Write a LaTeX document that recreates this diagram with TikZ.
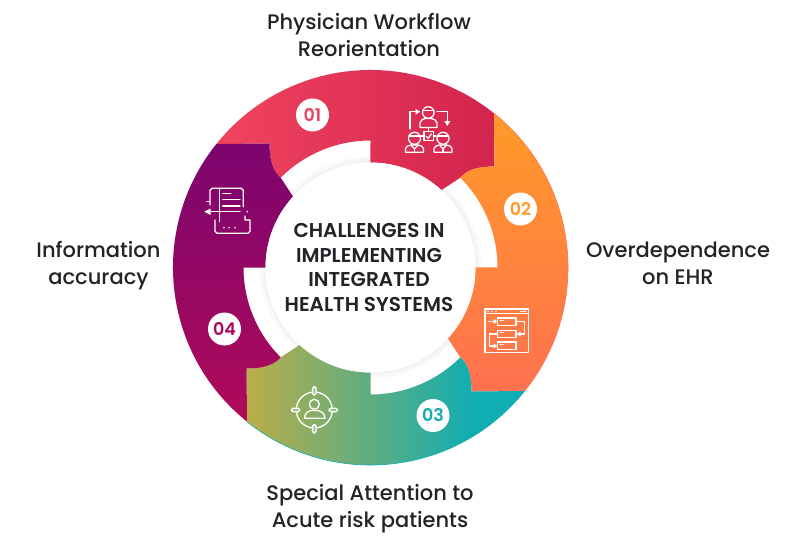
\documentclass[tikz,border=0pt]{standalone}
\usepackage{fontspec}
\setmainfont{Poppins}[UprightFont=* Medium, BoldFont=* SemiBold]
\usepackage{tikz}

\definecolor{redA}{HTML}{F0445F}
\definecolor{redB}{HTML}{D2244E}
\definecolor{orangeA}{HTML}{FF9A28}
\definecolor{orangeB}{HTML}{FF7150}
\definecolor{tealA}{HTML}{10ADB3}
\definecolor{oliveA}{HTML}{BBAD48}
\definecolor{purpleA}{HTML}{7C046F}
\definecolor{purpleB}{HTML}{B00B58}
\definecolor{textdark}{HTML}{232327}

\pgfdeclarehorizontalshading{oliveteal}{100bp}{color(0bp)=(oliveA); color(25bp)=(oliveA); color(66bp)=(tealA); color(100bp)=(tealA)}

\newcommand{\segpath}{(-154.1, 123.5)arc[radius=197.5, start angle=141.3, end angle=51.3]
	--(124, 101)..controls (104, 101) and (95, 96)..(89.8, 89.8)--(70.9, 77.4)
	arc[radius=105, start angle=47.5, end angle=90]--(0, 127)
	arc[radius=127, start angle=90, end angle=135]
	..controls (-96, 95) and (-101, 104)..(-101, 124)--cycle}

\tikzset{
	label/.style={font=\fontsize{21}{27}\selectfont, text=textdark, align=center},
	title/.style={font=\fontsize{20}{24.4}\selectfont\bfseries, text=textdark, align=center},
	badge/.style={circle, fill=white, minimum size=33pt, inner sep=0pt, font=\fontsize{17.5}{17.5}\selectfont\bfseries},
	icon/.style={draw=white, line width=1.3pt, line join=round, line cap=round},
	dotfill/.style={fill=white, draw=none}
}

\begin{document}
\begin{tikzpicture}[x=1pt, y=1pt]
	\useasboundingbox[fill=white](0, 0) rectangle (806, -543);

	% ring
	\begin{scope}[shift={(370.5, -267.5)}]
		\foreach \r/\g in {111/2, 109/3, 107/5}
			\fill[black!\g](0, 0) circle[radius=\r];
		\shade[left color=redA, right color=redB]\segpath;
		\begin{scope}[rotate=-90]
			\shade[top color=orangeA, bottom color=orangeB]\segpath;
			\draw[orangeB, line width=0.6pt](-154.1, 123.5)arc[radius=197.5, start angle=141.3, end angle=51.3];
		\end{scope}
		\begin{scope}[rotate=-180]
			\shade[shading=oliveteal]\segpath;
			\draw[tealA, line width=0.6pt](-154.1, 123.5)arc[radius=197.5, start angle=141.3, end angle=51.3];
		\end{scope}
		\begin{scope}[rotate=-270]
			\shade[top color=purpleA, bottom color=purpleB]\segpath;
		\end{scope}
		\fill[white](0, 0) circle[radius=105];
	\end{scope}

	% texts
	\node[title](centre) at (369, -267.5) {CHALLENGES IN\\IMPLEMENTING\\INTEGRATED\\HEALTH SYSTEMS};
	\node[label](lab1) at (369, -34.5) {Physician Workflow\\Reorientation};
	\node[label](lab2) at (678, -263.5) {Overdependence\\on EHR};
	\node[label](lab3) at (370, -509) {Special Attention to\\Acute risk patients};
	\node[label](lab4) at (98.5, -265.5) {Information\\accuracy};

	\node[badge, text=redA!90!redB](num1) at (312.5, -115) {01};
	\node[badge, text=orangeA](num2) at (520.5, -209) {02};
	\node[badge, text=tealA](num3) at (433, -415.5) {03};
	\node[badge, text=purpleB!90!purpleA](num4) at (224.5, -329) {04};

	% icons
	\begin{scope}[yscale=-1]
		% people
		\draw[icon](428.3, 112.5) circle[radius=5.8];
		\draw[icon](423, 110.5)--(433.5, 110.5);
		\draw[icon](420, 127.5)--(420, 123)..controls (420, 120.5) and (423, 119)..(425, 118.5)
			--(431.5, 118.5)..controls (434, 119) and (437, 120.5)..(437, 123)--(437, 127.5)--cycle;
		\draw[icon](428.5, 127.5)--(428.5, 131.7);
		\draw[icon](424, 131.7) rectangle (433.3, 140.7);
		\draw[icon](426.5, 136.5)--(428.3, 138.3)--(431.3, 134);
		\draw[icon](421.5, 136)--(424, 136);
		\draw[icon](433.3, 136)--(436, 136);
		\foreach \x in {414.5, 443}{
			\draw[icon](\x, 138.3) circle[radius=6];
			\draw[icon](\x-5.5, 136)--(\x+5.5, 136);
			\draw[icon](\x-9, 152.3)--(\x-9, 148.5)..controls (\x-9, 146.5) and (\x-6, 145.5)..(\x-3.5, 145)
				--(\x+3.5, 145)..controls (\x+6, 145.5) and (\x+9, 146.5)..(\x+9, 148.5)--(\x+9, 152.3)--cycle;
			\draw[icon](\x-3.5, 145)--(\x, 149)--(\x+3.5, 145);
			\draw[icon](\x, 149)--(\x, 152.3);
		}
		\draw[icon](410, 129)--(410, 111.7)--(416, 111.7);
		\fill[dotfill](420, 111.7)--(415.5, 108.7)--(415.5, 114.7)--cycle;
		\draw[icon](437, 111.7)--(447.3, 111.7)--(447.3, 121);
		\fill[dotfill](447.3, 126)--(444.3, 121)--(450.3, 121)--cycle;

		% window with flow
		\draw[icon](485, 309) rectangle (528.3, 352.3);
		\draw[icon](485, 313.5)--(528.3, 313.5);
		\foreach \x in {488, 492, 496}
			\fill[dotfill](\x, 311.3) circle[radius=0.8];
		\draw[icon, line width=0.8pt](520, 311.3)--(526, 311.3);
		\foreach \y in {318, 330.3, 341.9}{
			\draw[icon](497.7, \y) rectangle (516, \y+7.3);
			\draw[icon, line width=0.8pt](500, \y+2.5)--(504, \y+2.5);
		}
		\draw[icon](488.3, 321.5)--(494, 321.5);
		\fill[dotfill](497.5, 321.5)--(493.5, 319)--(493.5, 324)--cycle;
		\draw[icon](516, 321.5)--(524.3, 321.5)--(524.3, 334)--(520, 334);
		\fill[dotfill](516.5, 334)--(520.5, 331.5)--(520.5, 336.5)--cycle;
		\draw[icon](497.7, 334)--(489.3, 334)--(489.3, 346)--(494, 346);
		\fill[dotfill](497.5, 346)--(493.5, 343.5)--(493.5, 348.5)--cycle;

		% target with person
		\draw[icon](314.3, 410) circle[radius=18];
		\foreach \px/\py/\w/\h in {314.3/390.8/3.4/8.4, 314.3/428.8/3.4/8.4, 295.6/410/8.4/3.4, 333.3/410/8.4/3.4}
			\draw[icon, fill=white!30!oliveA!70!tealA, rounded corners=1.5pt](\px-\w/2, \py-\h/2) rectangle (\px+\w/2, \py+\h/2);
		\draw[icon](314.3, 404.3) circle[radius=5];
		\draw[icon](304.5, 418.3)..controls (304.5, 412.5) and (309, 410.8)..(311.5, 410.5)
			--(317, 410.5)..controls (320, 410.8) and (325, 412.5)..(325, 418.3)--cycle;

		% document
		\draw[icon](210, 205)--(210, 190.3)--(212, 188.3)--(241.3, 188.3)--(243.3, 190.3)--(243.3, 206.7);
		\draw[icon](219.3, 188.3)--(219.3, 221.7);
		\draw[icon](222.7, 193.3)--(230.7, 193.3);
		\draw[icon](222.7, 199.3)--(240, 199.3);
		\draw[icon](222.7, 206)--(240, 206);
		\draw[icon](211, 211.7)--(240, 211.7);
		\draw[icon](207, 201.7)--(210, 201.7);
		\fill[dotfill](204.3, 211.7)--(210.5, 208.5)--(210.5, 214.9)--cycle;
		\draw[icon](215, 220)--(215, 231.3)--(217, 233.3)--(248, 233.3)--(250, 231.3)--(250, 220)--(245, 220)--(245, 216);
		\foreach \x in {224, 229, 235}
			\fill[dotfill](\x, 227.7) circle[radius=0.9];
		\fill[dotfill](247.3, 211.7) circle[radius=0.9];
	\end{scope}
\end{tikzpicture}
\end{document}
